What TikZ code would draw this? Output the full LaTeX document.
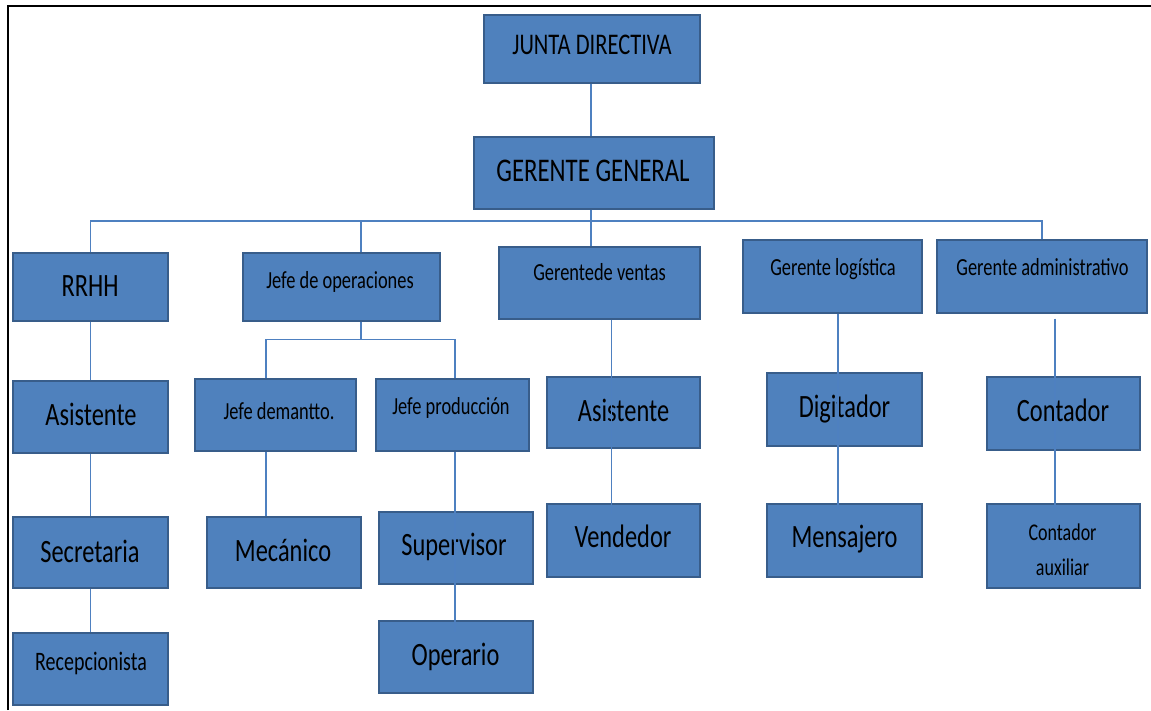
\documentclass[tikz,border=0pt]{standalone}
\usepackage{fontspec}
\setmainfont{Carlito}[FakeStretch=0.75]
\usetikzlibrary{calc}
\definecolor{azulcaja}{RGB}{79,129,189}
\definecolor{bordecaja}{RGB}{56,93,138}
\definecolor{azullinea}{RGB}{78,128,192}

\begin{document}
\begin{tikzpicture}[x=0.75pt,y=0.75pt,yscale=-1,xscale=1,
  caja/.style n args={2}{draw=bordecaja, fill=azulcaja, line width=1pt, inner sep=0pt,
    minimum width=#1*0.75pt, minimum height=#2*0.75pt},
  enlace/.style={draw=azullinea, line width=1pt},
  txt/.style={text=black, inner sep=0pt, text depth=0pt},
  grande/.style={txt, text height=15.4pt, font=\fontsize{24.4}{29}\selectfont},
  chico/.style={txt, text height=11.6pt, font=\fontsize{18.4}{22}\selectfont}]
\useasboundingbox (0,0) rectangle (1151,710);

%Frame
\draw [line width=1.8pt] (8,710) -- (8,6) -- (1151,6) ;

%Shape: Rectangles
\node[caja={216}{68}] (junta) at (592,49) {};
\node[caja={240}{72}] (gerente) at (594,173) {};
\node[caja={155}{68}] (rrhh) at (90.5,287) {};
\node[caja={197}{68}] (ops) at (341.5,287) {};
\node[caja={201}{72}] (ventas) at (599.5,283) {};
\node[caja={179}{73}] (logistica) at (832.5,276.5) {};
\node[caja={210}{73}] (admin) at (1042,276.5) {};
\node[caja={155}{72}] (asis1) at (90.5,417) {};
\node[caja={155}{71}] (secre) at (90.5,552.5) {};
\node[caja={155}{72}] (recep) at (90.5,669) {};
\node[caja={161}{72}] (mantto) at (275.5,415) {};
\node[caja={153}{72}] (prod) at (452.5,415) {};
\node[caja={154}{71}] (mecanico) at (284,552.5) {};
\node[caja={154}{72}] (super) at (456,548) {};
\node[caja={154}{72}] (operario) at (456,657) {};
\node[caja={153}{71}] (asis2) at (623.5,412.5) {};
\node[caja={153}{73}] (vendedor) at (623.5,540.5) {};
\node[caja={155}{73}] (digitador) at (844.5,409.5) {};
\node[caja={155}{73}] (mensajero) at (844.5,540.5) {};
\node[caja={153}{73}] (contador) at (1063.5,413.5) {};
\node[caja={153}{84}] (auxiliar) at (1063.5,546) {};

% Text Node
\node[txt, text height=14.2pt, font=\fontsize{22.5}{27}\selectfont] (t-junta) at (592,45) {JUNTA DIRECTIVA};
\node[txt, text height=15.6pt, font=\fontsize{24.8}{30}\selectfont] (t-gerente) at (593,171) {GERENTE GENERAL};
\node[grande] (t-rrhh) at (90,286.5) {RRHH};
\node[chico] (t-ops) at (340,281) {Jefe de operaciones};
\node[chico] (t-ventas) at (599.5,273) {Gerentede ventas};
\node[chico] (t-logistica) at (833,268) {Gerente logística};
\node[chico] (t-admin) at (1042.5,268) {Gerente administrativo};
\node[grande] (t-asis1) at (91,415) {Asistente};
\node[chico] (t-mantto) at (279,412) {Jefe demantto.};
\node[chico] (t-prod) at (451,406.5) {Jefe producción};
\node[grande] (t-asis2) at (623.5,411) {Asistente};
\node[grande] (t-secre) at (90,552.5) {Secretaria};
\node[grande] (t-mecanico) at (283,551.5) {Mecánico};
\node[txt, text height=12.6pt, font=\fontsize{20}{24}\selectfont] (t-recep) at (91,662) {Recepcionista};
\node[grande] (t-super) at (454,545.5) {Supervisor};
\node[grande] (t-operario) at (455.5,655) {Operario};
\node[grande] (t-vendedor) at (623,537.5) {Vendedor};
\node[grande] (t-digitador) at (844.5,407.5) {Digitador};
\node[grande] (t-contador) at (1063,411.5) {Contador};
\node[grande] (t-mensajero) at (844.5,537.5) {Mensajero};
\node[text=black, inner sep=0pt, align=center, font=\fontsize{18}{26}\selectfont] (t-auxiliar) at (1062.5,550) {Contador\\auxiliar};

%Straight Lines
\coordinate (bus) at (591,221);
\draw[enlace] (junta.south -| bus) -- (gerente.north -| bus);
\draw[enlace] (gerente.south -| bus) -- (ventas.north -| bus);
\draw[enlace] (rrhh.north) |- (bus) -| (admin.north);
\coordinate (ops-x) at ($(ops.north)+(19.5,0)$);
\draw[enlace] (ops-x) -- (ops-x |- bus);
\draw[enlace] (rrhh.south) -- (asis1.north);
\draw[enlace] (asis1.south) -- (secre.north);
\draw[enlace] (secre.south) -- (recep.north);
\coordinate (rama) at ($(ops.south)+(19.5,18)$);
\draw[enlace] (ops-x |- ops.south) -- (rama);
\coordinate (m-x) at ($(mantto.north)+(-9.5,0)$);
\coordinate (p-x) at ($(prod.north)+(2.5,0)$);
\draw[enlace] (m-x) |- (rama) -| (p-x);
\draw[enlace] (m-x |- mantto.south) -- (m-x |- mecanico.north);
\draw[enlace] (p-x |- prod.south) -- ($(p-x |- operario.north)+(0,12)$);
\coordinate (v-x) at ($(ventas.south)+(12,0)$);
\draw[enlace] (v-x) -- ($(v-x |- vendedor.north)+(0,11)$);
\coordinate (l-x) at ($(logistica.south)+(5.5,0)$);
\draw[enlace] (l-x) -- ($(l-x |- mensajero.north)+(0,6)$);
\coordinate (a-x) at ($(admin.south)+(13,5)$);
\draw[enlace] (a-x) -- ($(a-x |- auxiliar.north)+(0,6)$);

\end{tikzpicture}
\end{document}
